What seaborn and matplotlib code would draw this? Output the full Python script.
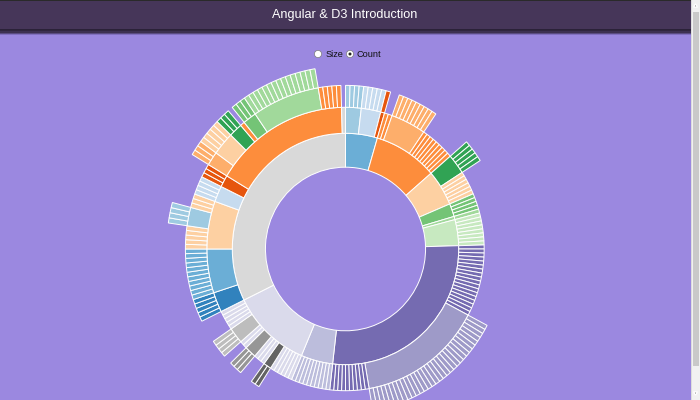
import numpy as np
import matplotlib
matplotlib.use("Agg")
import matplotlib.pyplot as plt
from matplotlib.patches import Wedge, Rectangle, Circle, Polygon
import seaborn as sns

# ---------------- data: flare hierarchy (count mode: every leaf = 1) ----------------
analytics = [
    ("cluster", ["AgglomerativeCluster", "CommunityStructure", "HierarchicalCluster", "MergeEdge"]),
    ("graph", ["BetweennessCentrality", "LinkDistance", "MaxFlowMinCut", "ShortestPaths", "SpanningTree"]),
    ("optimization", ["AspectRatioBanker"]),
]
animate = [
    "Easing", "FunctionSequence",
    ("interpolate", ["ArrayInterpolator", "ColorInterpolator", "DateInterpolator", "Interpolator",
                     "MatrixInterpolator", "NumberInterpolator", "ObjectInterpolator",
                     "PointInterpolator", "RectangleInterpolator"]),
    "ISchedulable", "Parallel", "Pause", "Scheduler", "Sequence", "Transition",
    "Transitioner", "TransitionEvent", "Tween",
]
data = [
    ("converters", ["Converters", "DelimitedTextConverter", "GraphMLConverter", "IDataConverter", "JSONConverter"]),
    "DataField", "DataSchema", "DataSet", "DataSource", "DataTable", "DataUtil",
]
display = ["DirtySprite", "LineSprite", "RectSprite", "TextSprite"]
flex = ["FlareVis"]
physics = ["DragForce", "GravityForce", "IForce", "NBodyForce", "Particle", "Simulation", "Spring", "SpringForce"]
query_methods = ["add", "and", "average", "count", "distinct", "div", "eq", "fn", "gt", "gte", "iff", "isa",
                 "lt", "lte", "max", "min", "mod", "mul", "neq", "not", "or", "orderby", "range", "select",
                 "stddev", "sub", "sum", "update", "variance", "where", "xor", "_"]
query = [
    "AggregateExpression", "And", "Arithmetic", "Average", "BinaryExpression", "Comparison",
    "CompositeExpression", "Count", "DateUtil", "Distinct", "Expression", "ExpressionIterator", "Fn",
    "If", "IsA", "Literal", "Match", "Maximum",
    ("methods", query_methods),
    "Minimum", "Not", "Or", "Query", "Range", "StringUtil", "Sum", "Variable", "Variance", "Xor",
]
scale = ["IScaleMap", "LinearScale", "LogScale", "OrdinalScale", "QuantileScale", "QuantitativeScale",
         "RootScale", "Scale", "ScaleType", "TimeScale"]
util = [
    "Arrays", "Colors", "Dates", "Displays", "Filter", "Geometry",
    ("heap", ["FibonacciHeap", "HeapNode"]),
    "IEvaluable", "IPredicate", "IValueProxy",
    ("math", ["DenseMatrix", "IMatrix", "SparseMatrix"]),
    "Maths", "Orientation",
    ("palette", ["ColorPalette", "Palette", "ShapePalette", "SizePalette"]),
    "Property", "Shapes", "Sort", "Stats", "Strings",
]
vis_operator = [
    ("distortion", ["BifocalDistortion", "Distortion", "FisheyeDistortion"]),
    ("encoder", ["ColorEncoder", "Encoder", "PropertyEncoder", "ShapeEncoder", "SizeEncoder"]),
    ("filter", ["FisheyeTreeFilter", "GraphDistanceFilter", "VisibilityFilter"]),
    "IOperator",
    ("label", ["Labeler", "RadialLabeler", "StackedAreaLabeler"]),
    ("layout", ["AxisLayout", "BundledEdgeRouter", "CircleLayout", "CirclePackingLayout",
                "DendrogramLayout", "ForceDirectedLayout", "IcicleTreeLayout", "IndentedTreeLayout",
                "Layout", "NodeLinkTreeLayout", "PieLayout", "RadialTreeLayout", "RandomLayout",
                "StackedAreaLayout", "TreeMapLayout"]),
    "Operator", "OperatorList", "OperatorSequence", "OperatorSwitch", "SortOperator",
]
vis = [
    ("axis", ["Axes", "Axis", "AxisGridLine", "AxisLabel", "CartesianAxes"]),
    ("controls", ["AnchorControl", "ClickControl", "Control", "ControlList", "DragControl",
                  "ExpandControl", "HoverControl", "IControl", "PanZoomControl",
                  "SelectionControl", "TooltipControl"]),
    ("data", ["Data", "DataList", "DataSprite", "EdgeSprite", "NodeSprite",
              ("render", ["ArrowType", "EdgeRenderer", "IRenderer", "ShapeRenderer"]),
              "ScaleBinding", "Tree", "TreeBuilder"]),
    ("events", ["DataEvent", "SelectionEvent", "TooltipEvent", "VisualizationEvent"]),
    ("legend", ["Legend", "LegendItem", "LegendRange"]),
    ("operator", vis_operator),
    "Visualization",
]
flare = [("analytics", analytics), ("animate", animate), ("data", data), ("display", display),
         ("flex", flex), ("physics", physics), ("query", query), ("scale", scale),
         ("util", util), ("vis", vis)]

title_text = "Angular & D3 Introduction"
radio_labels = ["Size", "Count"]

# ---------------- partition layout ----------------
def build(name, children, depth, parent=None):
    node = {"name": name, "depth": depth, "parent": parent, "children": []}
    for c in children:
        if isinstance(c, str):
            node["children"].append({"name": c, "depth": depth + 1, "parent": node, "children": None})
        else:
            node["children"].append(build(c[0], c[1], depth + 1, node))
    return node

def count(node):
    if not node["children"]:
        node["value"] = 1
    else:
        node["value"] = sum(count(c) for c in node["children"])
    return node["value"]

root = build("flare", flare, 0)
count(root)

nodes = []
def layout(node, x0):
    node["x0"] = x0
    node["x1"] = x0 + node["value"] / root["value"]
    nodes.append(node)
    if node["children"]:
        x = x0
        for c in node["children"]:
            layout(c, x)
            x = c["x1"]
layout(root, 0.0)
levels = max(n["depth"] for n in nodes) + 1

palette = sns.color_palette("tab20c", 20)
color_index = {}
def color_of(name):
    if name not in color_index:
        color_index[name] = len(color_index)
    return palette[color_index[name] % 20]

# ---------------- figure ----------------
sns.set_theme(style="white")
plt.rcParams["font.family"] = ["Liberation Sans", "DejaVu Sans"]

BG = "#9b88e0"
fig = plt.figure(figsize=(7, 4), dpi=100, facecolor=BG)
ax = fig.add_axes([0, 0, 1, 1])
ax.set_xlim(0, 700)
ax.set_ylim(400, 0)
ax.axis("off")
ax.set_facecolor(BG)

# sunburst axes (slightly taller than wide, as in the screenshot)
cx, cy, R, sy = 345.5, 249, 179, 1.022
sax = fig.add_axes([0, 0, 1, 1])
sax.set_xlim(-cx, 700 - cx)
sax.set_ylim((400 - cy) / sy, -cy / sy)
sax.axis("off")
sax.patch.set_alpha(0)

for n in nodes:
    col = color_of(n["name"] if n["children"] else n["parent"]["name"])
    if n["depth"] == 0:
        continue
    r0 = R * np.sqrt(n["depth"] / levels)
    r1 = R * np.sqrt((n["depth"] + 1) / levels)
    a0 = n["x0"] * 360 - 90
    a1 = n["x1"] * 360 - 90
    sax.add_patch(Wedge((0, 0), r1, a0, a1, width=r1 - r0, facecolor=col,
                        edgecolor="white", linewidth=0.7))

# header bar
ax.add_patch(Rectangle((0, 0), 691, 29, facecolor="#463659", edgecolor="none", zorder=5))
ax.add_patch(Rectangle((0, 0), 691, 1, facecolor="#2a2a2a", edgecolor="none", zorder=5))
shadow = ["#2b2238", "#30263f", "#3d3152", "#5a4c82", "#8170bf"]
for i, c in enumerate(shadow):
    ax.add_patch(Rectangle((0, 29 + i * 1.2), 691, 1.2, facecolor=c, edgecolor="none", zorder=5))
ax.text(345, 15, title_text, color="white", fontsize=9.1, ha="center", va="center", zorder=6)

# radio buttons
ax.add_patch(Circle((318, 54), 3.6, facecolor="white", edgecolor="#7a7a7a", linewidth=0.5, zorder=6))
ax.add_patch(Circle((350, 54), 3.6, facecolor="white", edgecolor="#7a7a7a", linewidth=0.5, zorder=6))
ax.add_patch(Circle((350, 54), 1.5, facecolor="#222222", edgecolor="none", zorder=7))
ax.text(325.5, 54.5, radio_labels[0], fontsize=6.6, ha="left", va="center", color="#111111", zorder=6)
ax.text(356.5, 54.5, radio_labels[1], fontsize=6.6, ha="left", va="center", color="#111111", zorder=6)

# scrollbar
ax.add_patch(Rectangle((691, 0), 9, 400, facecolor="#f1f1f1", edgecolor="none", zorder=5))
ax.add_patch(Rectangle((691, 0), 0.8, 400, facecolor="#dcdcdc", edgecolor="none", zorder=5))
ax.add_patch(Rectangle((692.5, 12), 6, 354, facecolor="#c9c9c9", edgecolor="none", zorder=6))
ax.add_patch(Polygon([[693.5, 7], [697.5, 7], [695.5, 4]], closed=True, facecolor="#505050", zorder=6))
ax.add_patch(Polygon([[693.5, 392], [697.5, 392], [695.5, 395]], closed=True, facecolor="#505050", zorder=6))

fig.savefig("out.png", dpi=100, facecolor=BG)
